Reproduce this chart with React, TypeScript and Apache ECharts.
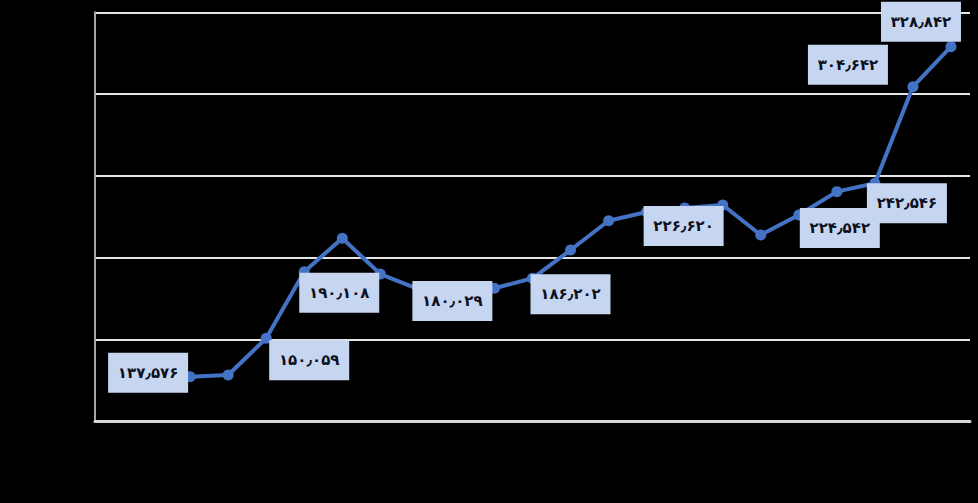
import React, { useEffect, useRef } from "react";
import * as echarts from "echarts";

// 23 category slots; the first two are empty in the reference
const categories: string[] = [
  "1", "2", "3", "4", "5", "6", "7", "8", "9", "10", "11", "12",
  "13", "14", "15", "16", "17", "18", "19", "20", "21", "22", "23",
];

const values: (number | null)[] = [
  null, null,
  127.1, 128.1, 150.6, 191.3, 211.8, 189.9, 180.7, 179.5, 181.2, 187.3,
  204.6, 222.5, 227.8, 230.3, 232.1, 213.8, 226.0, 240.3, 245.4, 304.5, 329.0,
];

// data label texts (Persian digits), keyed by category index
const labelTexts: Record<number, string> = {
  2: "۱۳۷٫۵۷۶",
  4: "۱۵۰٫۰۵۹",
  5: "۱۹۰٫۱۰۸",
  8: "۱۸۰٫۰۲۹",
  11: "۱۸۶٫۲۰۲",
  14: "۲۲۶٫۶۲۰",
  18: "۲۲۴٫۵۴۲",
  20: "۲۴۲٫۵۴۶",
  21: "۳۰۴٫۶۴۲",
  22: "۳۲۸٫۸۴۲",
};

// label offsets relative to the point centre
const labelOffsets: Record<number, [number, number]> = {
  2: [-42, -4],
  4: [43, 22],
  5: [35, 21],
  8: [34, 12],
  11: [38, 16],
  14: [37, 14],
  18: [41, 13],
  20: [32, 20],
  21: [-65, -22],
  22: [-30, -25],
};

const yMin = 100;
const yMax = 350;
const yInterval = 50;

export default function App() {
  const ref = useRef<HTMLDivElement>(null);

  useEffect(() => {
    if (!ref.current) return;
    document.body.style.margin = "0";
    document.body.style.background = "#000";
    const chart = echarts.init(ref.current, undefined, { renderer: "svg" });

    const seriesData = values.map((v, i) => {
      if (v === null) return null;
      const txt = labelTexts[i];
      if (!txt) return { value: v };
      return {
        value: v,
        label: {
          show: true,
          position: "inside",
          offset: labelOffsets[i],
          formatter: txt,
        },
      };
    });

    chart.setOption({
      animation: false,
      backgroundColor: "#000000",
      grid: { left: 95, right: 8, top: 12.3, bottom: 82, containLabel: false },
      xAxis: {
        type: "category",
        data: categories,
        boundaryGap: true,
        axisLine: { show: true, lineStyle: { color: "#d9d9d9", width: 3 } },
        axisTick: { show: false },
        axisLabel: { show: false },
        splitLine: { show: false },
      },
      yAxis: {
        type: "value",
        min: yMin,
        max: yMax,
        interval: yInterval,
        axisLine: { show: true, lineStyle: { color: "#a6a6a6", width: 2 } },
        axisTick: { show: false },
        axisLabel: { show: false },
        splitLine: { show: true, lineStyle: { color: "#e6e6e6", width: 2 } },
      },
      series: [
        {
          type: "line",
          data: seriesData,
          connectNulls: false,
          symbol: "circle",
          symbolSize: 11,
          lineStyle: { color: "#4472c4", width: 4 },
          itemStyle: { color: "#4472c4" },
          label: {
            show: false,
            fontFamily: "DejaVu Sans",
            fontWeight: "bold",
            fontSize: 15,
            color: "#0d1020",
            backgroundColor: "#c6d5f0",
            width: 64,
            height: 20,
            lineHeight: 20,
            padding: [10, 8],
            align: "center",
            verticalAlign: "middle",
          },
          z: 3,
        },
      ],
    });

    return () => chart.dispose();
  }, []);

  return (
    <div
      ref={ref}
      style={{ position: "fixed", left: 0, top: 0, width: 978, height: 503, background: "#000" }}
    />
  );
}
